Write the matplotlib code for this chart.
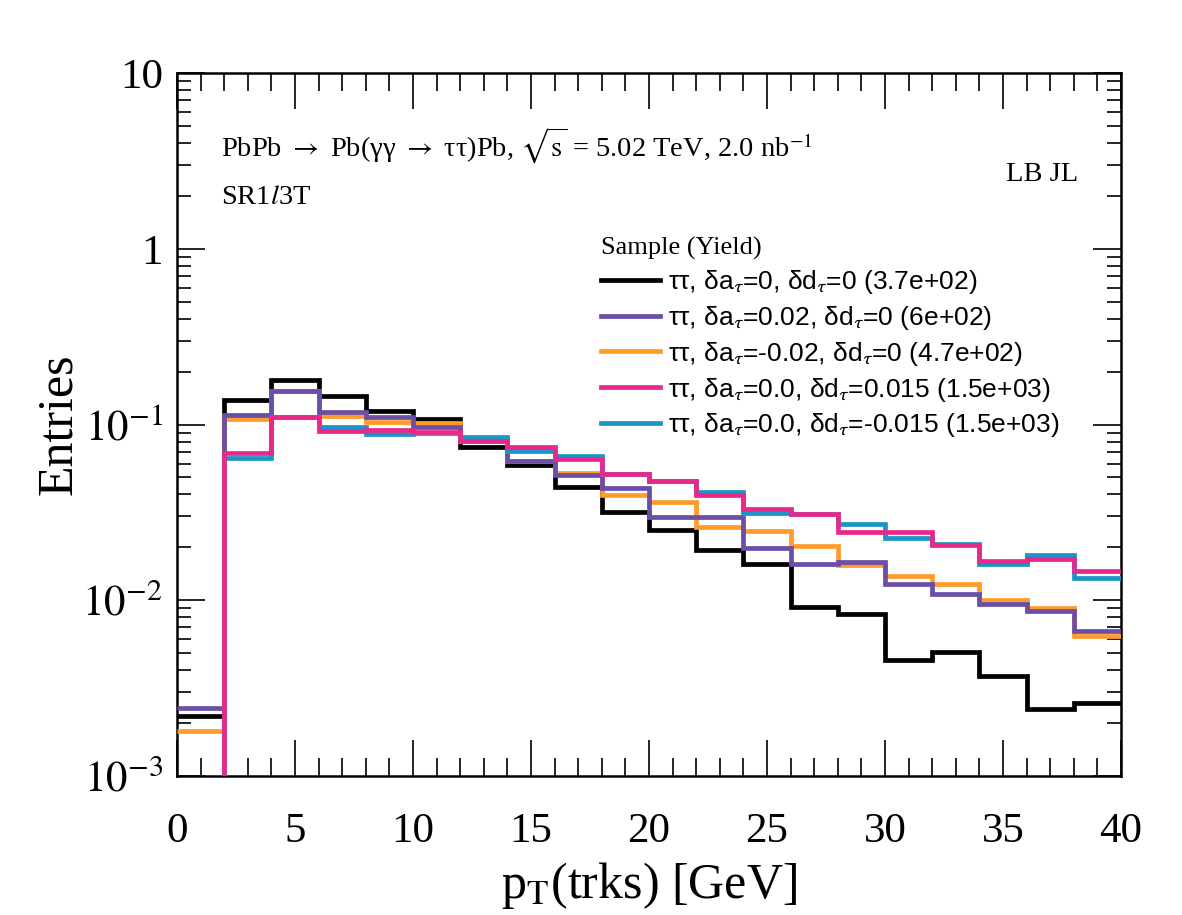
import numpy as np
import matplotlib
matplotlib.use("Agg")
from matplotlib import pyplot as plt
from matplotlib.font_manager import FontProperties
from matplotlib.ticker import FixedLocator, LogLocator, NullFormatter, MultipleLocator

# bin edges in pT(trks) [GeV]
edges = [0, 2, 4, 6, 8, 10, 12, 14, 16, 18, 20, 22, 24, 26, 28, 30, 32, 34, 36, 38, 40]

# normalised entries per bin
sm = [0.0022, 0.137, 0.18, 0.145, 0.119, 0.107, 0.074, 0.059, 0.044, 0.0316,
      0.025, 0.0192, 0.016, 0.0092, 0.0083, 0.0046, 0.0051, 0.0037, 0.0024, 0.0026]
a_p02 = [0.00243, 0.114, 0.155, 0.118, 0.111, 0.0965, 0.082, 0.062, 0.0513, 0.0435,
         0.0298, 0.0298, 0.0199, 0.0161, 0.0166, 0.0123, 0.0109, 0.0095, 0.0087, 0.0067]
a_m02 = [0.0018, 0.107, 0.155, 0.112, 0.104, 0.102, 0.081, 0.062, 0.0533, 0.0395,
         0.036, 0.026, 0.0247, 0.0204, 0.0158, 0.0137, 0.0124, 0.0100, 0.0090, 0.0063]
d_p015 = [0.0, 0.0687, 0.110, 0.092, 0.093, 0.091, 0.081, 0.0743, 0.064, 0.052,
          0.0476, 0.0395, 0.0330, 0.0308, 0.0245, 0.0245, 0.0205, 0.0167, 0.0171, 0.0146]
d_m015 = [0.0, 0.0646, 0.110, 0.097, 0.0886, 0.090, 0.085, 0.0705, 0.066, 0.052,
          0.0476, 0.0413, 0.0313, 0.031, 0.0273, 0.0225, 0.021, 0.0161, 0.018, 0.0134]

labels = [r"ττ, δa$_{\tau}$=0, δd$_{\tau}$=0 (3.7e+02)",
          r"ττ, δa$_{\tau}$=0.02, δd$_{\tau}$=0 (6e+02)",
          r"ττ, δa$_{\tau}$=-0.02, δd$_{\tau}$=0 (4.7e+02)",
          r"ττ, δa$_{\tau}$=0.0, δd$_{\tau}$=0.015 (1.5e+03)",
          r"ττ, δa$_{\tau}$=0.0, δd$_{\tau}$=-0.015 (1.5e+03)"]
series = [sm, a_p02, a_m02, d_p015, d_m015]
colors = ["black", "#6b4ea5", "#ff9b2b", "#e8288a", "#1b95c5"]
zord = [3, 5, 4, 7, 6]

serif = "Liberation Serif"
sans = "Liberation Sans"

fig = plt.figure(figsize=(11.82, 9.15), dpi=100)
ax = fig.add_axes([0.1497, 0.1519, 0.7987, 0.7683])

handles = []
for vals, c, z, lab in zip(series, colors, zord, labels):
    h = ax.stairs(vals, edges, baseline=None, color=c, lw=3.4, zorder=z, label=lab)
    handles.append(h)

ax.set_yscale("log")
ax.set_xlim(0, 40)
ax.set_ylim(1e-3, 10)

# ROOT-like ticks
ax.xaxis.set_major_locator(MultipleLocator(5))
ax.xaxis.set_minor_locator(MultipleLocator(1))
ax.yaxis.set_major_locator(FixedLocator([1e-3, 1e-2, 1e-1, 1, 10]))
ax.yaxis.set_minor_locator(LogLocator(base=10, subs=np.arange(2, 10)))
ax.yaxis.set_minor_formatter(NullFormatter())
ax.set_yticklabels([r"$10^{-3}$", r"$10^{-2}$", r"$10^{-1}$", "1", "10"])
ax.tick_params(which="both", direction="in", top=True, right=True, width=1.2)
ax.tick_params(axis="x", which="major", length=26, pad=26)
ax.tick_params(axis="x", which="minor", length=13)
ax.tick_params(axis="y", which="major", length=20, pad=10)
ax.tick_params(axis="y", which="minor", length=10)
tickfont = FontProperties(family=serif, size=31, math_fontfamily="stix")
for lab in ax.get_xticklabels() + ax.get_yticklabels():
    lab.set_fontproperties(tickfont)
for s in ax.spines.values():
    s.set_linewidth(1.8)

axfont = FontProperties(family=serif, size=36, math_fontfamily="stix")
ax.set_xlabel(r"p$_{\mathrm{T}}$(trks) [GeV]", fontproperties=axfont)
ax.set_ylabel("Entries", fontproperties=axfont)
ax.xaxis.set_label_coords(0.5, -0.12)
ax.yaxis.set_label_coords(-0.1, 0.5)

txtfont = FontProperties(family=serif, size=20.5, math_fontfamily="stix")
ax.text(0.047, 0.881, r"PbPb $\rightarrow$ Pb(γγ $\rightarrow$ ττ)Pb, $\sqrt{\mathrm{s}}$ = 5.02 TeV, 2.0 nb$^{-1}$",
        transform=ax.transAxes, fontproperties=txtfont, va="baseline")
ax.text(0.047, 0.814, r"SR1$\mathit{l}$3T", transform=ax.transAxes,
        fontproperties=txtfont, va="baseline")
ax.text(0.955, 0.847, "LB JL", transform=ax.transAxes, fontproperties=txtfont,
        va="baseline", ha="right")

leg = ax.legend(handles=handles, labels=labels, loc="upper left",
                bbox_to_anchor=(0.449, 0.767), frameon=False,
                prop=FontProperties(family=sans, size=19, math_fontfamily="stixsans"),
                title="Sample (Yield)", alignment="left",
                handlelength=2.25, handletextpad=0.28, labelspacing=0.3,
                borderpad=0, borderaxespad=0)
leg.get_title().set_fontproperties(FontProperties(family=serif, size=19))
for ln in leg.get_lines():
    ln.set_linewidth(3.4)

fig.savefig("out.png", dpi=100)
